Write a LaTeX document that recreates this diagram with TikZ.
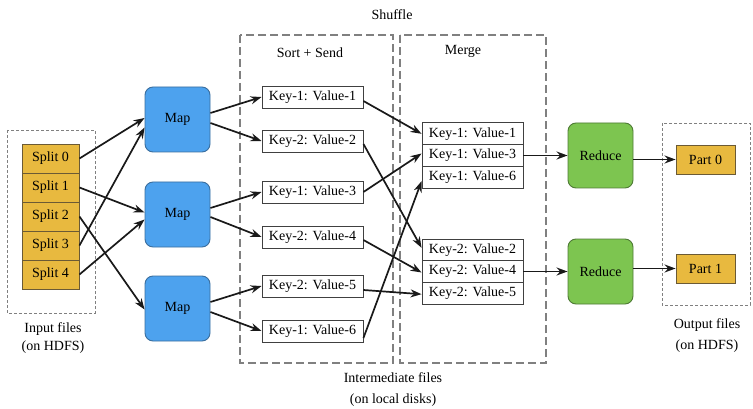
\documentclass[tikz,border=0pt]{standalone}
\usepackage{fontspec}
\setmainfont{Liberation Serif}
\usetikzlibrary{arrows.meta,calc}
\definecolor{gold}{HTML}{E8B93F}
\definecolor{goldb}{HTML}{6B5A35}
\definecolor{mapblue}{HTML}{4DA2EE}
\definecolor{mapblueb}{HTML}{3A6E9E}
\definecolor{redgreen}{HTML}{7DC550}
\definecolor{redgreenb}{HTML}{4E7A35}
\definecolor{dashgray}{HTML}{808080}
\begin{document}
\begin{tikzpicture}[x=1pt,y=-1pt,
  every node/.style={font=\fontsize{14}{16}\selectfont, inner sep=0pt},
  splitbox/.style={draw=goldb, fill=gold, line width=0.9pt, minimum width=57pt, minimum height=29pt},
  mapbox/.style={draw=mapblueb, fill=mapblue, line width=0.9pt, rounded corners=8pt, minimum width=65pt, minimum height=65pt},
  redbox/.style={draw=redgreenb, fill=redgreen, line width=0.9pt, rounded corners=8pt, minimum width=65pt, minimum height=65pt},
  keybox/.style={draw=black!75, fill=white, line width=0.9pt, minimum width=101pt, minimum height=22pt},
  mergebox/.style={draw=black!75, fill=white, line width=0.9pt, minimum width=101pt, minimum height=21.7pt},
  partbox/.style={draw=goldb, fill=gold, line width=0.9pt, minimum width=59pt, minimum height=29pt},
  smalldash/.style={draw=dashgray, line width=0.9pt, dash pattern=on 3pt off 2pt},
  bigdash/.style={draw=dashgray, line width=1.4pt, dash pattern=on 8pt off 4pt},
  arr/.style={-{Stealth[length=11pt,width=8pt]}, line width=1.7pt, black!90},
  lbl/.style={}
]
\useasboundingbox (0,0) rectangle (753,409);

% dashed frames
\draw[smalldash] (7,130) rectangle (95,313);
\draw[smalldash] (662,123) rectangle (750,305);
\draw[bigdash] (240,35) rectangle (393,363);
\draw[bigdash] (400,35) rectangle (546,363);

% labels
\node[lbl] (shuf) at (392,15) {Shuffle};
\node[lbl] (sortl) at (310,53) {Sort + Send};
\node[lbl] (mergel) at (463,51) {Merge};
\node[lbl] (in1) at (53,329) {Input files};
\node[lbl] (in2) at (53,347) {(on HDFS)};
\node[lbl] (im1) at (393,378) {Intermediate files};
\node[lbl] (im2) at (393,400) {(on local disks)};
\node[lbl] (out1) at (707,325) {Output files};
\node[lbl] (out2) at (707,346) {(on HDFS)};

% splits
\node[splitbox] (s0) at (50.5,158.5) {Split 0};
\node[splitbox] (s1) at (50.5,187.5) {Split 1};
\node[splitbox] (s2) at (50.5,216.5) {Split 2};
\node[splitbox] (s3) at (50.5,245.5) {Split 3};
\node[splitbox] (s4) at (50.5,274.5) {Split 4};

% maps
\node[mapbox] (m1) at (177.5,119.5) {Map};
\node[mapbox] (m2) at (177.5,214.5) {Map};
\node[mapbox] (m3) at (177.5,308.5) {Map};

% sort + send keys
\node[keybox] (k1) at (312.5,97) {Key-1: Value-1};
\node[keybox] (k2) at (312.5,141) {Key-2: Value-2};
\node[keybox] (k3) at (312.5,192) {Key-1: Value-3};
\node[keybox] (k4) at (312.5,237) {Key-2: Value-4};
\node[keybox] (k5) at (312.5,286) {Key-2: Value-5};
\node[keybox] (k6) at (312.5,331) {Key-1: Value-6};

% merge
\node[mergebox] (a1) at (472.5,133.8) {Key-1: Value-1};
\node[mergebox] (a2) at (472.5,155.5) {Key-1: Value-3};
\node[mergebox] (a3) at (472.5,177.2) {Key-1: Value-6};
\node[mergebox] (b1) at (472.5,249.8) {Key-2: Value-2};
\node[mergebox] (b2) at (472.5,271.5) {Key-2: Value-4};
\node[mergebox] (b3) at (472.5,293.2) {Key-2: Value-5};

% reduce
\node[redbox] (r1) at (600.5,155.5) {Reduce};
\node[redbox] (r2) at (600.5,271.5) {Reduce};

% parts
\node[partbox] (p0) at (705.5,159.5) {Part 0};
\node[partbox] (p1) at (705.5,268.5) {Part 1};

% split -> map
\draw[arr] (s0.east) -- ($(m1.west)+(0,-1.5)$);
\draw[arr] (s1.east) -- ($(m2.west)+(0,-2)$);
\draw[arr] (s2.east) -- ($(m3.west)+(0,1)$);
\draw[arr] (s3.east) -- ($(m1.west)+(0,8)$);
\draw[arr] (s4.east) -- ($(m2.west)+(0,5)$);

% map -> keys
\draw[arr] ($(m1.east)+(0,-6.5)$) -- (k1.west);
\draw[arr] ($(m1.east)+(0,3.5)$) -- (k2.west);
\draw[arr] ($(m2.east)+(0,-6.5)$) -- (k3.west);
\draw[arr] ($(m2.east)+(0,2.5)$) -- (k4.west);
\draw[arr] ($(m3.east)+(0,-6.5)$) -- (k5.west);
\draw[arr] ($(m3.east)+(0,3.5)$) -- (k6.west);

% keys -> merge
\draw[arr] ($(k1.east)+(0,4)$) -- (a1.west);
\draw[arr] ($(k2.east)+(0,3)$) -- ($(b1.west)+(0,-2)$);
\draw[arr] (k3.east) -- ($(a2.west)+(0,-2)$);
\draw[arr] ($(k4.east)+(0,3)$) -- ($(b2.west)+(0,1)$);
\draw[arr] ($(k5.east)+(0,4)$) -- ($(b3.west)+(0,1)$);
\draw[arr] ($(k6.east)+(0,7)$) -- ($(a3.west)+(0,4)$);

% merge -> reduce -> part
\draw[arr] (a2.east) -- (r1.west);
\draw[arr] (b2.east) -- (r2.west);
\draw[arr] (r1.east |- p0.west) -- (p0.west);
\draw[arr] (r2.east |- p1.west) -- (p1.west);
\end{tikzpicture}
\end{document}
